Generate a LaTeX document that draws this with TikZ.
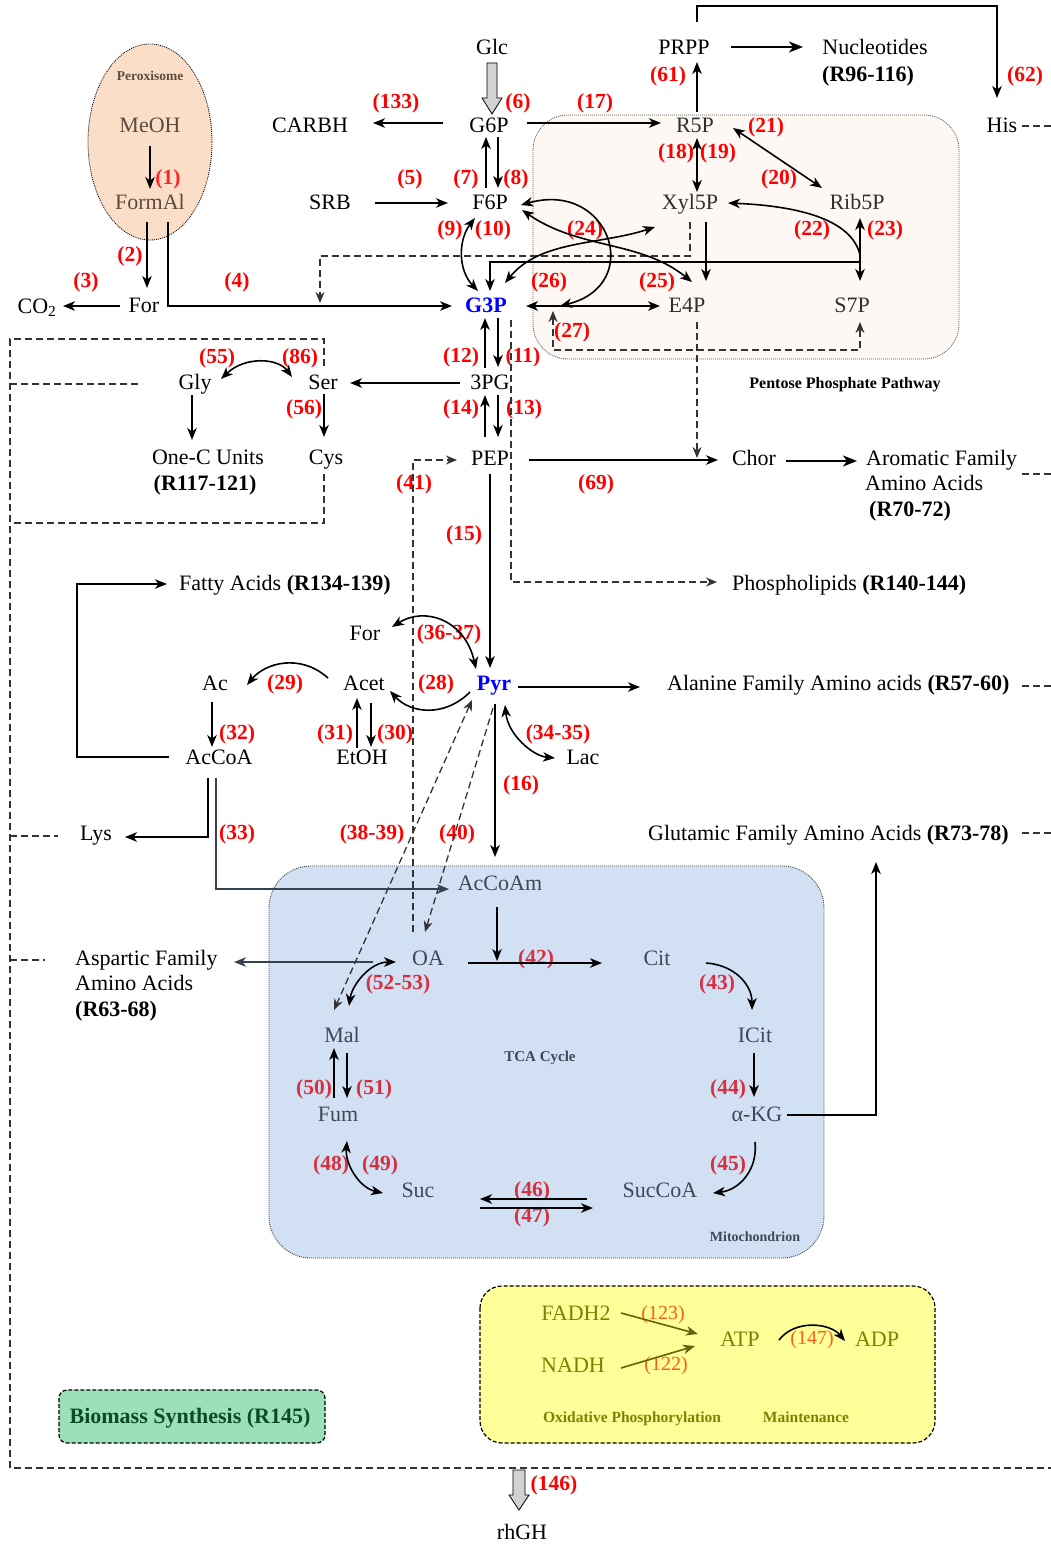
\documentclass[tikz,border=0pt]{standalone}
\usepackage{fontspec}
\setmainfont{Liberation Serif}
\usetikzlibrary{arrows.meta,calc}
\definecolor{peroxfill}{RGB}{251,222,200}
\definecolor{pppfill}{RGB}{253,248,244}
\definecolor{mitofill}{RGB}{210,224,243}
\definecolor{oxfill}{RGB}{255,255,153}
\definecolor{biofill}{RGB}{156,224,186}
\definecolor{mtext}{RGB}{62,72,90}
\definecolor{mline}{RGB}{55,65,82}
\definecolor{mred}{RGB}{214,48,64}
\definecolor{ptext}{RGB}{48,48,48}
\definecolor{xtext}{RGB}{92,76,62}
\definecolor{olivetext}{RGB}{128,128,0}
\definecolor{olivearrow}{RGB}{100,100,15}
\definecolor{orangelab}{RGB}{250,95,20}
\definecolor{biotext}{RGB}{10,75,40}
\definecolor{rred}{RGB}{255,0,0}
\begin{document}
\begin{tikzpicture}[x=1pt,y=-1pt]
\tikzset{
  met/.style={font=\fontsize{22}{24}\selectfont, inner sep=0pt, text height=16pt, text depth=2pt},
  metb/.style={met, font=\bfseries\fontsize{22}{24}\selectfont},
  rl/.style={font=\bfseries\fontsize{21.5}{24}\selectfont, text=rred, inner sep=0pt},
  rlm/.style={rl, text=mred},
  sl/.style={font=\bfseries\fontsize{15}{17}\selectfont, inner sep=0pt, text height=11pt, text depth=3pt},
  myhead/.tip={Stealth[length=12pt,width=9.5pt,inset=3.5pt]},
  dhead/.tip={Stealth[length=11pt,width=9pt,inset=3.5pt]},
  bighead/.tip={Stealth[length=14pt,width=11pt,inset=4pt]},
  arr/.style={-myhead, line width=1.6pt},
  darr/.style={myhead-myhead, line width=1.6pt},
  dsh/.style={dash pattern=on 7pt off 4pt, line width=1.3pt, draw=black!80},
  dsharr/.style={dsh, -dhead},
  dshdarr/.style={dsh, dhead-dhead},
  block/.style={fill=gray!35, draw=black, line width=0.8pt}
}
\useasboundingbox (0,0) rectangle (1051,1546);

% ---------- compartments ----------
\draw[fill=peroxfill, dash pattern=on 1pt off 1pt, line width=0.8pt] (150,142) ellipse [x radius=62pt, y radius=98pt];
\draw[fill=pppfill, draw=gray!70!black, dash pattern=on 1pt off 1pt, line width=0.8pt, rounded corners=35pt] (533,115) rectangle (959,359);
\draw[fill=mitofill, draw=gray!60!black, dash pattern=on 1pt off 1pt, line width=0.9pt, rounded corners=42pt] (269,866) rectangle (824,1258);
\draw[fill=oxfill, dash pattern=on 4pt off 2pt, line width=1.2pt, rounded corners=22pt] (480,1286) rectangle (935,1443);
\draw[fill=biofill, dash pattern=on 4pt off 2pt, line width=1.2pt, rounded corners=8pt] (59,1390) rectangle (325,1443);

% ---------- dashed frame ----------
\draw[dsh] (324,366) -- (324,339) -- (10,339) -- (10,1468) -- (1051,1468);
\draw[dsh] (324,474) -- (324,523) -- (10,523);
\draw[dsh] (10,384) -- (142,384);
\draw[dsh] (10,836) -- (58,836);
\draw[dsh] (10,960) -- (45,960);
\draw[dsh] (1022,126) -- (1051,126);
\draw[dsh] (1022,474) -- (1051,474);
\draw[dsh] (1022,686) -- (1051,686);
\draw[dsh] (1022,833) -- (1051,833);

% ---------- compartment labels ----------
\node[sl, font=\bfseries\fontsize{13.5}{15}\selectfont, text=xtext] (perlab) at (150,77) {Peroxisome};
\node[sl, font=\bfseries\fontsize{16}{18}\selectfont] (ppplab) at (845,384) {Pentose Phosphate Pathway};
\node[sl, text=mtext] (tcalab) at (540,1057) {TCA Cycle};
\node[sl, font=\bfseries\fontsize{14}{16}\selectfont, text=mtext] (mitolab) at (755,1237) {Mitochondrion};
\node[sl, font=\bfseries\fontsize{15.5}{17}\selectfont, text=olivetext] (oxlab) at (632,1418) {Oxidative Phosphorylation};
\node[sl, font=\bfseries\fontsize{15.5}{17}\selectfont, text=olivetext] (mainlab) at (806,1418) {Maintenance};
\node[sl, font=\bfseries\fontsize{22}{24}\selectfont, text height=16pt, text depth=4pt, text=biotext] (bio) at (190,1417) {Biomass Synthesis (R145)};

% ---------- metabolites ----------
\node[met] (Glc) at (492,48) {Glc};
\node[met] (G6P) at (489,126) {G6P};
\node[met] (CARBH) at (310,126) {CARBH};
\node[met, text=ptext] (R5P) at (695,126) {R5P};
\node[met] (PRPP) at (684,48) {PRPP};
\node[met] (Nuc) at (875,48) {Nucleotides};
\node[metb] (NucR) at (868,75) {(R96-116)};
\node[met] (His) at (1002,126) {His};
\node[met, text=xtext] (MeOH) at (150,126) {MeOH};
\node[met, text=xtext] (FormAl) at (150,203) {FormAl};
\node[met] (ForA) at (144,305) {For};
\node[met] (CO2) at (37,306) {CO\textsubscript{2}};
\node[met] (SRB) at (330,203) {SRB};
\node[met] (F6P) at (490,203) {F6P};
\node[metb, text=blue] (G3P) at (486,305) {G3P};
\node[met, text=ptext] (Xyl) at (690,203) {Xyl5P};
\node[met, text=ptext] (Rib) at (857,203) {Rib5P};
\node[met, text=ptext] (E4P) at (687,305) {E4P};
\node[met, text=ptext] (S7P) at (852,305) {S7P};
\node[met] (PG) at (490,382) {3PG};
\node[met] (Ser) at (323,382) {Ser};
\node[met] (Gly) at (195,382) {Gly};
\node[met] (OneC) at (208,457) {One-C Units};
\node[metb] (OneCR) at (205,483) {(R117-121)};
\node[met] (Cys) at (326,457) {Cys};
\node[met] (PEP) at (490,458) {PEP};
\node[met] (Chor) at (754,458) {Chor};
\node[met, anchor=west] (Arom) at (866,458) {Aromatic Family};
\node[met, anchor=west] (Arom2) at (865,483) {Amino Acids};
\node[metb, anchor=west] (Arom3) at (869,509) {(R70-72)};
\node[met, anchor=west] (Phos) at (732,583) {Phospholipids \textbf{(R140-144)}};
\node[met, anchor=west] (Fatty) at (179,583) {Fatty Acids \textbf{(R134-139)}};
\node[met] (ForB) at (365,633) {For};
\node[metb, text=blue] (Pyr) at (494,683) {Pyr};
\node[met] (Acet) at (364,683) {Acet};
\node[met] (Ac) at (215,683) {Ac};
\node[met] (AcCoA) at (219,757) {AcCoA};
\node[met] (EtOH) at (362,757) {EtOH};
\node[met, anchor=west] (Ala) at (667,683) {Alanine Family Amino acids \textbf{(R57-60)}};
\node[met] (Lac) at (583,757) {Lac};
\node[met] (Lys) at (96,833) {Lys};
\node[met, anchor=west] (Glu) at (648,833) {Glutamic Family Amino Acids \textbf{(R73-78)}};
\node[met, text=mtext] (AcCoAm) at (500,883) {AcCoAm};
\node[met, text=mtext] (OA) at (428,958) {OA};
\node[met, text=mtext] (Cit) at (657,958) {Cit};
\node[met, anchor=west] (Asp) at (75,958) {Aspartic Family};
\node[met, anchor=west] (Asp2) at (75,983) {Amino Acids};
\node[metb, anchor=west] (Asp3) at (75,1009) {(R63-68)};
\node[met, text=mtext] (Mal) at (342,1035) {Mal};
\node[met, text=mtext] (ICit) at (755,1035) {ICit};
\node[met, text=mtext] (Fum) at (338,1114) {Fum};
\node[met, text=mtext] (aKG) at (757,1114) {α-KG};
\node[met, text=mtext] (Suc) at (418,1190) {Suc};
\node[met, text=mtext] (SucCoA) at (660,1190) {SucCoA};
\node[met, text=olivetext] (FADH) at (576,1313) {FADH2};
\node[met, text=olivetext] (NADH) at (573,1365) {NADH};
\node[met, text=olivetext] (ATP) at (740,1339) {ATP};
\node[met, text=olivetext] (ADP) at (877,1339) {ADP};
\node[met] (rhGH) at (522,1532) {rhGH};

% ---------- reaction labels ----------
\node[rl, text=rred!85] (r1) at (168,179) {(1)};
\node[rl] (r2) at (130,256) {(2)};
\node[rl] (r3) at (86,282) {(3)};
\node[rl] (r4) at (237,282) {(4)};
\node[rl] (r5) at (410,179) {(5)};
\node[rl] (r6) at (518,103) {(6)};
\node[rl] (r7) at (466,179) {(7)};
\node[rl] (r8) at (516,179) {(8)};
\node[rl] (r9) at (450,230) {(9)};
\node[rl] (r10) at (493,230) {(10)};
\node[rl] (r11) at (523,357) {(11)};
\node[rl] (r12) at (461,357) {(12)};
\node[rl] (r13) at (524,409) {(13)};
\node[rl] (r14) at (461,409) {(14)};
\node[rl] (r15) at (464,535) {(15)};
\node[rl] (r16) at (521,785) {(16)};
\node[rl] (r17) at (595,103) {(17)};
\node[rl] (r18) at (676,153) {(18)};
\node[rl] (r19) at (718,153) {(19)};
\node[rl] (r20) at (779,179) {(20)};
\node[rl] (r21) at (766,127) {(21)};
\node[rl] (r22) at (812,230) {(22)};
\node[rl] (r23) at (885,230) {(23)};
\node[rl] (r24) at (585,230) {(24)};
\node[rl] (r25) at (657,282) {(25)};
\node[rl] (r26) at (549,282) {(26)};
\node[rl] (r27) at (572,332) {(27)};
\node[rl] (r28) at (436,684) {(28)};
\node[rl] (r29) at (285,684) {(29)};
\node[rl] (r30) at (395,734) {(30)};
\node[rl] (r31) at (335,734) {(31)};
\node[rl] (r32) at (237,734) {(32)};
\node[rl] (r33) at (237,834) {(33)};
\node[rl] (r3435) at (558,734) {(34-35)};
\node[rl] (r3637) at (449,634) {(36-37)};
\node[rl] (r3839) at (372,834) {(38-39)};
\node[rl] (r40) at (457,834) {(40)};
\node[rl] (r41) at (414,484) {(41)};
\node[rlm] (r42) at (536,959) {(42)};
\node[rlm] (r43) at (717,984) {(43)};
\node[rlm] (r44) at (728,1089) {(44)};
\node[rlm] (r45) at (728,1165) {(45)};
\node[rlm] (r46) at (532,1191) {(46)};
\node[rlm] (r47) at (532,1217) {(47)};
\node[rlm] (r48) at (331,1165) {(48)};
\node[rlm] (r49) at (380,1165) {(49)};
\node[rlm] (r50) at (314,1089) {(50)};
\node[rlm] (r51) at (374,1089) {(51)};
\node[rlm] (r5253) at (398,984) {(52-53)};
\node[rl] (r55) at (217,358) {(55)};
\node[rl] (r56) at (304,409) {(56)};
\node[rl] (r61) at (668,76) {(61)};
\node[rl] (r62) at (1025,76) {(62)};
\node[rl] (r69) at (596,484) {(69)};
\node[rl] (r86) at (300,358) {(86)};
\node[rl, text=orangelab, font=\fontsize{20}{22}\selectfont] (r122) at (666,1366) {(122)};
\node[rl, text=orangelab, font=\fontsize{20}{22}\selectfont] (r123) at (663,1315) {(123)};
\node[rl] (r133) at (396,103) {(133)};
\node[rl] (r146) at (554,1485) {(146)};
\node[rl, text=orangelab, font=\fontsize{20}{22}\selectfont] (r147) at (812,1340) {(147)};

% ---------- block arrows ----------
\draw[block] ($(Glc)+(-5,15)$) -- ($(Glc)+(5,15)$) -- ($(Glc)+(5,50)$) -- ($(Glc)+(10,50)$) -- ($(Glc)+(0,66)$) -- ($(Glc)+(-10,50)$) -- ($(Glc)+(-5,50)$) -- cycle;
\draw[block] ($(rhGH)+(-9,-62)$) -- ($(rhGH)+(3,-62)$) -- ($(rhGH)+(3,-37)$) -- ($(rhGH)+(7,-37)$) -- ($(rhGH)+(-3,-22)$) -- ($(rhGH)+(-13,-37)$) -- ($(rhGH)+(-9,-37)$) -- cycle;

% ---------- upper part ----------
\draw[arr] ($(G6P)+(-46,-3)$) -- ($(CARBH)+(63,-3)$);
\draw[arr] ($(G6P)+(38,-3)$) -- ($(R5P)+(-34,-3)$);
\draw[arr] ($(R5P)+(2,-14)$) -- ($(PRPP)+(13,14)$);
\draw[-bighead, line width=2.6pt] ($(PRPP)+(47,-1)$) -- ($(Nuc)+(-72,-1)$);
\draw[arr] ($(PRPP)+(13,-26)$) |- ($(His)+(-5,-120)$) -- ($(His)+(-5,-28)$);
\draw[arr] ($(MeOH)+(0,20)$) -- ($(FormAl)+(0,-14)$);
\draw[arr] ($(FormAl)+(-3,19)$) -- ($(ForA)+(3,-17)$);
\draw[arr] ($(ForA)+(-24,1)$) -- ($(CO2)+(26,0)$);
\draw[arr] ($(FormAl)+(18,19)$) |- ($(G3P)+(-34,1)$);
\draw[dsharr] ($(Xyl)+(0,19)$) -- ($(Xyl)+(0,53)$) -| ($(ForA)+(176,-2)$);
\draw[arr] ($(SRB)+(45,0)$) -- ($(F6P)+(-42,0)$);
\draw[arr] ($(F6P)+(-4,-15)$) -- ($(G6P)+(-3,11)$);
\draw[arr] ($(G6P)+(9,11)$) -- ($(F6P)+(8,-15)$);
\draw[darr] ($(F6P)+(-15,15)$) .. controls ($(F6P)+(-32,37)$) and ($(G3P)+(-28,-35)$) .. ($(G3P)+(-8,-14)$);
% pentose phosphate pathway
\draw[arr, line width=1.3pt] ($(S7P)+(8,-43)$) -| ($(G3P)+(4,-14)$);
\draw[darr] ($(Rib)+(3,15)$) -- ($(S7P)+(8,-24)$);
\draw[arr] ($(S7P)+(8,-50)$) .. controls ($(S7P)+(0,-85)$) and ($(Xyl)+(110,3)$) .. ($(Xyl)+(38,0)$);
\draw[arr] ($(Xyl)+(16,19)$) -- ($(E4P)+(19,-24)$);
\draw[darr] ($(R5P)+(2,12)$) -- ($(Xyl)+(7,-11)$);
\draw[darr] ($(R5P)+(38,2)$) -- ($(Rib)+(-35,-15)$);
\draw[darr] ($(F6P)+(31,2)$) .. controls ($(F6P)+(120,-23)$) and ($(G3P)+(159,-20)$) .. ($(G3P)+(74,1)$);
\draw[darr] ($(F6P)+(32,7)$) .. controls ($(F6P)+(90,47)$) and ($(E4P)+(-47,-65)$) .. ($(E4P)+(5,-23)$);
\draw[darr] ($(G3P)+(19,-22)$) .. controls ($(G3P)+(54,-65)$) and ($(Xyl)+(-90,42)$) .. ($(Xyl)+(-35,24)$);
\draw[darr] ($(G3P)+(40,1)$) -- ($(E4P)+(-27,1)$);
\draw[dshdarr] ($(G3P)+(67,6)$) -- ($(G3P)+(67,45)$) -| ($(S7P)+(8,17)$);
% glycolysis
\draw[arr] ($(PG)+(-5,-14)$) -- ($(G3P)+(-1,13)$);
\draw[arr] ($(G3P)+(12,13)$) -- ($(PG)+(8,-15)$);
\draw[dsharr] ($(G3P)+(25,15)$) |- ($(Phos.west)+(-15,-1)$);
\draw[arr] ($(PG)+(-30,1)$) -- ($(Ser)+(27,1)$);
\draw[darr] ($(Gly)+(26,-3)$) .. controls ($(Gly)+(50,-26)$) and ($(Ser)+(-45,-24)$) .. ($(Ser)+(-31,-5)$);
\draw[arr] ($(Gly)+(-3,13)$) -- ($(OneC)+(-16,-17)$);
\draw[arr] ($(Ser)+(1,12)$) -- ($(Cys)+(-2,-20)$);
\draw[arr] ($(PEP)+(-5,-21)$) -- ($(PG)+(-5,13)$);
\draw[arr] ($(PG)+(8,13)$) -- ($(PEP)+(8,-21)$);
\draw[arr] ($(PEP)+(39,2)$) -- ($(Chor)+(-36,2)$);
\draw[dsharr] ($(E4P)+(10,17)$) -- ($(Chor)+(-57,0)$);
\draw[-bighead, line width=2.4pt] ($(Chor)+(32,3)$) -- ($(Arom.west)+(-9,3)$);
\draw[dsharr] ($(OA)+(-15,-26)$) |- ($(PEP)+(-33,2)$);
\draw[arr] ($(PEP)+(0,16)$) -- ($(Pyr)+(-4,-15)$);
% pyruvate node
\draw[arr] ($(AcCoA)+(-50,0)$) -- ($(AcCoA)+(-142,0)$) |- ($(Fatty.west)+(-12,1)$);
\draw[darr] ($(ForB)+(27,-6)$) .. controls ($(ForB)+(60,-27)$) and ($(Pyr)+(-29,-63)$) .. ($(Pyr)+(-18,-14)$);
\draw[arr] ($(Pyr)+(-24,9)$) .. controls ($(Pyr)+(-50,35)$) and ($(Acet)+(46,30)$) .. ($(Acet)+(26,8)$);
\draw[arr] ($(Acet)+(-36,-5)$) .. controls ($(Acet)+(-64,-30)$) and ($(Ac)+(50,-20)$) .. ($(Ac)+(32,2)$);
\draw[arr] ($(Ac)+(-3,19)$) -- ($(AcCoA)+(-7,-10)$);
\draw[arr] ($(EtOH)+(-5,-9)$) -- ($(Acet)+(-7,15)$);
\draw[arr] ($(Acet)+(7,20)$) -- ($(EtOH)+(9,-10)$);
\draw[arr] ($(Pyr)+(24,4)$) -- ($(Ala.west)+(-27,4)$);
\draw[darr] ($(Pyr)+(11,22)$) .. controls ($(Pyr)+(14,52)$) and ($(Lac)+(-50,-1)$) .. ($(Lac)+(-28,1)$);
\draw[arr] ($(Pyr)+(1,21)$) -- ($(AcCoAm)+(-5,-26)$);
\draw[dshdarr] ($(Pyr)+(-22,17)$) -- ($(Mal)+(-8,-25)$);
\draw[dsharr] ($(Pyr)+(-1,25)$) -- ($(OA)+(-3,-26)$);
\draw[arr] ($(AcCoA)+(-11,21)$) |- ($(Lys)+(29,4)$);
\draw[arr, draw=mline] ($(AcCoA)+(-3,21)$) |- ($(AcCoAm)+(-51,6)$);
\draw[arr] ($(aKG)+(30,1)$) -| ($(Glu.west)+(228,29)$);
% TCA cycle
\draw[arr] ($(AcCoAm)+(-3,24)$) -- ($(AcCoAm)+(-3,78)$);
\draw[arr] ($(OA)+(40,5)$) -- ($(Cit)+(-55,5)$);
\draw[arr, draw=mline] ($(OA)+(-55,4)$) -- ($(Asp.west)+(159,4)$);
\draw[darr] ($(OA)+(-32,4)$) .. controls ($(OA)+(-58,4)$) and ($(Mal)+(10,-50)$) .. ($(Mal)+(7,-29)$);
\draw[arr] ($(Fum)+(-4,-16)$) -- ($(Mal)+(-8,13)$);
\draw[arr] ($(Mal)+(5,18)$) -- ($(Fum)+(9,-16)$);
\draw[darr] ($(Fum)+(9,27)$) .. controls ($(Fum)+(7,51)$) and ($(Suc)+(-58,-2)$) .. ($(Suc)+(-35,3)$);
\draw[arr] ($(SucCoA)+(-73,9)$) -- ($(Suc)+(62,9)$);
\draw[arr] ($(Suc)+(62,18)$) -- ($(SucCoA)+(-67,18)$);
\draw[arr] ($(Cit)+(49,5)$) .. controls ($(Cit)+(78,7)$) and ($(ICit)+(-3,-50)$) .. ($(ICit)+(-3,-25)$);
\draw[arr] ($(ICit)+(-1,18)$) -- ($(aKG)+(-3,-17)$);
\draw[arr] ($(aKG)+(-2,28)$) .. controls ($(aKG)+(1,56)$) and ($(SucCoA)+(79,0)$) .. ($(SucCoA)+(53,3)$);
% oxidative phosphorylation
\draw[arr, draw=olivearrow] ($(FADH)+(45,0)$) -- ($(ATP)+(-42,-5)$);
\draw[arr, draw=olivearrow] ($(NADH)+(48,3)$) -- ($(ATP)+(-45,7)$);
\draw[arr] ($(ATP)+(39,1)$) .. controls ($(ATP)+(55,-20)$) and ($(ADP)+(-47,-16)$) .. ($(ADP)+(-32,2)$);
\end{tikzpicture}
\end{document}
